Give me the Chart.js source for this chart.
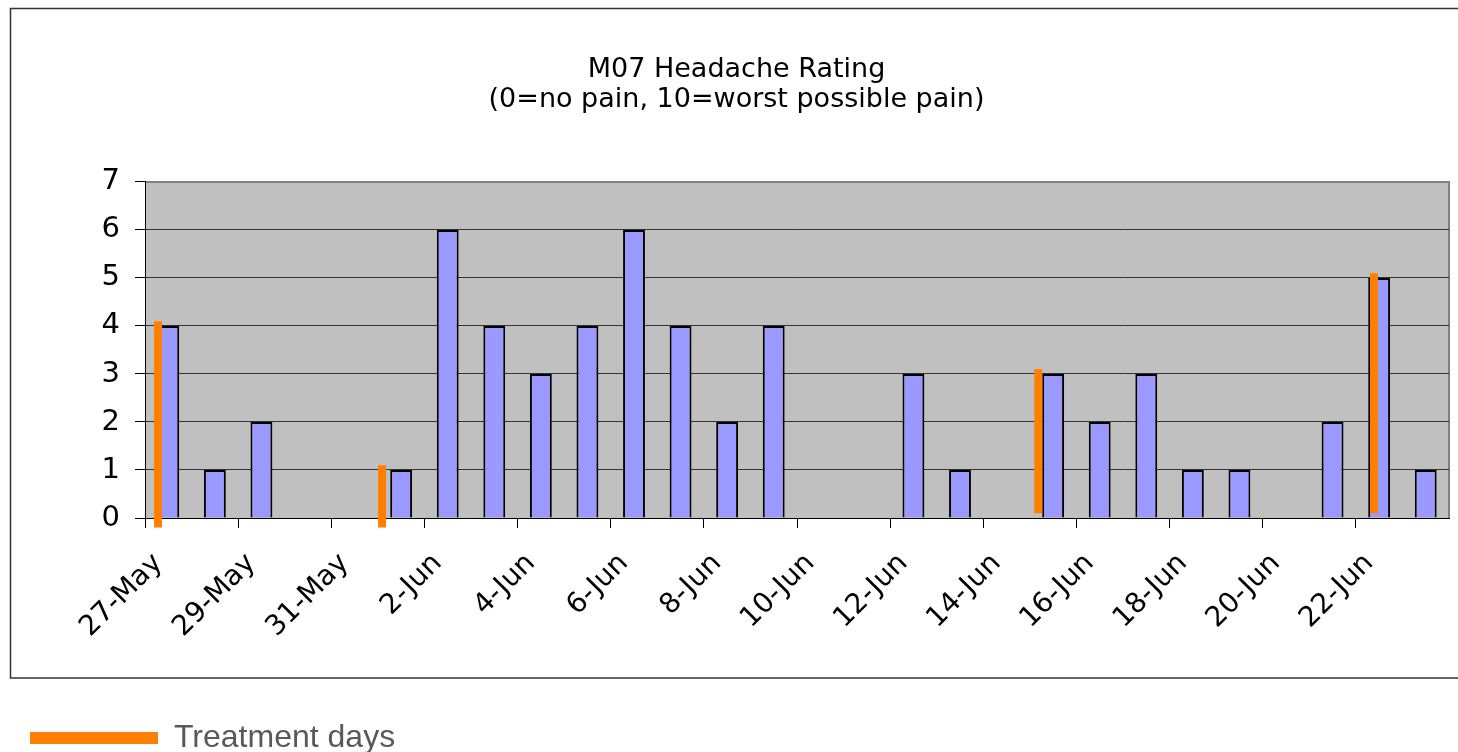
<!DOCTYPE html>
<html>
<head>
<meta charset="utf-8">
<script src="https://cdn.jsdelivr.net/npm/chart.js@4"></script>
<style>
  body { margin: 0; background: #fff; }
  #wrap { width: 1458px; height: 752px; }
</style>
</head>
<body>
<div id="wrap"><canvas id="chart"></canvas></div>
<script>
const days = [
  "27-May", "28-May", "29-May", "30-May", "31-May", "1-Jun", "2-Jun",
  "3-Jun", "4-Jun", "5-Jun", "6-Jun", "7-Jun", "8-Jun", "9-Jun",
  "10-Jun", "11-Jun", "12-Jun", "13-Jun", "14-Jun", "15-Jun", "16-Jun",
  "17-Jun", "18-Jun", "19-Jun", "20-Jun", "21-Jun", "22-Jun", "23-Jun"
];
const rating = [
  4, 1, 2, 0, 0, 1, 6,
  4, 3, 4, 6, 4, 2, 4,
  0, 0, 3, 1, 0, 3, 2,
  3, 1, 1, 0, 2, 5, 1
];

// treatment markers: position in days from start of 27-May, low/high end
const treatmentPos = [0.28, 5.09, 19.18, 26.39];
const treatmentLow = [-0.2, -0.2, 0.1, 0.1];
const treatmentHigh = [4.1, 1.1, 3.1, 5.1];

const treatmentData = treatmentPos.flatMap((x, i) => [
  { x: x, y: treatmentLow[i] },
  { x: x, y: treatmentHigh[i] },
  { x: x, y: null }
]);

const FONT = "'DejaVu Sans', sans-serif";
const LEG_FONT = "'Liberation Sans', Arial, sans-serif";

// grey plot background + frame around everything but the legend
const framePlugin = {
  id: 'frame',
  beforeDraw(chart) {
    const { ctx, chartArea: a } = chart;
    ctx.save();
    ctx.fillStyle = '#C0C0C0';
    ctx.fillRect(a.left, a.top, a.right - a.left, a.bottom - a.top);
    ctx.strokeStyle = '#808080';
    ctx.lineWidth = 2;
    ctx.beginPath();
    ctx.moveTo(a.left, a.top);
    ctx.lineTo(a.right, a.top);
    ctx.lineTo(a.right, a.bottom);
    ctx.stroke();
    ctx.strokeStyle = '#333';
    ctx.lineWidth = 1.5;
    ctx.strokeRect(10.5, 8.5, chart.width + 10, a.bottom + 160 - 8.5);
    ctx.restore();
  }
};

new Chart(document.getElementById('chart'), {
  type: 'bar',
  data: {
    labels: days,
    datasets: [
      {
        type: 'line',
        label: 'Treatment days',
        data: treatmentData,
        xAxisID: 'x2',
        borderColor: '#FF8000',
        backgroundColor: '#FF8000',
        borderWidth: 8,
        pointRadius: 0,
        spanGaps: false,
        clip: false,
        order: 1
      },
      {
        label: 'Rating',
        data: rating,
        backgroundColor: '#9999FF',
        borderColor: '#000',
        borderWidth: 2,
        grouped: false,
        barPercentage: 0.47,
        categoryPercentage: 1,
        order: 2
      }
    ]
  },
  options: {
    responsive: true,
    maintainAspectRatio: false,
    animation: false,
    layout: { padding: { top: 0, right: 9, bottom: -12, left: 24 } },
    plugins: {
      title: {
        display: true,
        text: ['M07 Headache Rating', '(0=no pain, 10=worst possible pain)'],
        color: '#000',
        font: { family: FONT, size: 27, weight: 'normal', lineHeight: 1.11 },
        padding: { top: 55, bottom: 67 }
      },
      legend: {
        display: true,
        position: 'bottom',
        align: 'start',
        labels: {
          boxWidth: 128,
          boxHeight: 12,
          padding: 6,
          color: '#595959',
          font: { family: LEG_FONT, size: 32 },
          generateLabels: () => [{
            text: 'Treatment days',
            fillStyle: '#FF8000',
            strokeStyle: '#FF8000',
            lineWidth: 0,
            fontColor: '#595959',
            datasetIndex: 0
          }]
        }
      },
      tooltip: { enabled: false }
    },
    scales: {
      x: {
        offset: true,
        afterFit: (scale) => {
          scale.height = 198;
          scale.paddingRight = 0;
        },
        grid: {
          offset: true,
          drawOnChartArea: false,
          drawTicks: true,
          tickLength: 10,
          tickColor: (c) => (c.index % 2 === 0 ? '#000' : 'rgba(0,0,0,0)')
        },
        border: { color: '#000', width: 1 },
        ticks: {
          autoSkip: false,
          maxRotation: 45,
          minRotation: 45,
          padding: 19,
          labelOffset: -10,
          color: '#000',
          font: { family: FONT, size: 28 },
          callback: function (value, index) {
            return index % 2 === 0 ? this.getLabelForValue(value) : '';
          }
        }
      },
      x2: {
        type: 'linear',
        display: false,
        offset: false,
        grid: { offset: false },
        min: 0,
        max: days.length
      },
      y: {
        min: 0,
        max: 7,
        afterFit: (scale) => { scale.width = 121; },
        ticks: {
          stepSize: 1,
          padding: 15,
          color: '#000',
          font: { family: FONT, size: 29 }
        },
        grid: {
          color: (c) => (c.tick && c.tick.value === 7 ? '#808080' : '#333'),
          lineWidth: 1,
          tickLength: 10,
          tickColor: '#000'
        },
        border: { color: '#000', width: 1 }
      }
    }
  },
  plugins: [framePlugin]
});
</script>
</body>
</html>
